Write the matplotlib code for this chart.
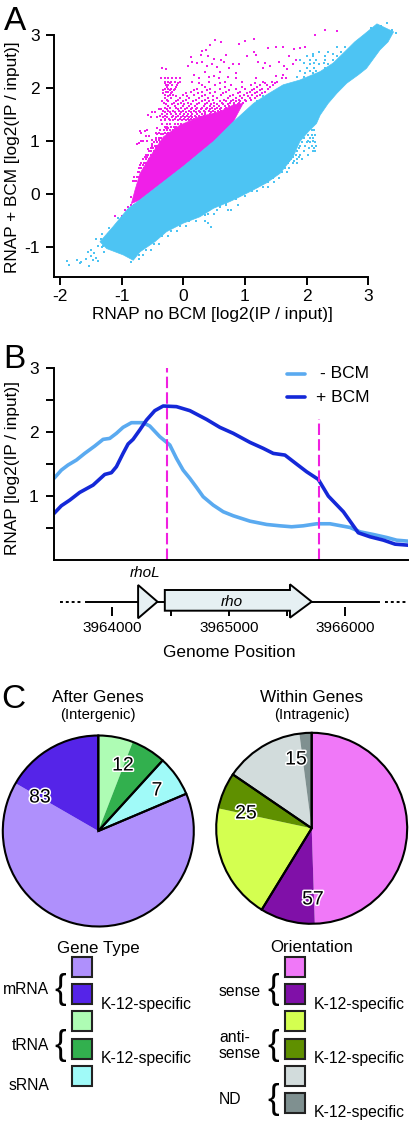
import matplotlib
matplotlib.use('Agg')
import matplotlib.pyplot as plt
import matplotlib.patheffects as pe
from matplotlib.patches import Polygon, Rectangle

plt.rcParams['font.family'] = ['Liberation Sans', 'DejaVu Sans']
plt.rcParams['axes.unicode_minus'] = False

W, H = 414, 1125

# Panel A: outline of the two dense clouds
blue_cloud_x = [-1.35, -1.14, -0.89, -0.70, 0.0, 0.49, 0.81, 1.14, 1.35, 1.62, 1.89, 2.22, 2.43, 2.65, 2.78, 2.92, 3.14,
                3.41, 3.32, 3.19, 2.97, 2.84, 2.65, 2.49, 2.35, 2.22, 2.16, 2.03, 1.89, 1.78, 1.57, 1.35, 1.14, 0.92,
                0.76, 0.49, 0.27, 0.0, -0.27, -0.46, -0.70, -0.81, -0.97, -1.24]
blue_cloud_y = [-0.90, -0.62, -0.27, -0.11, 0.52, 0.99, 1.36, 1.71, 1.87, 2.06, 2.15, 2.31, 2.47, 2.72, 2.87, 3.0, 3.21,
                3.06, 2.87, 2.72, 2.37, 2.25, 2.09, 1.90, 1.71, 1.49, 1.33, 1.18, 0.99, 0.70, 0.39, 0.21, 0.08, -0.05,
                -0.14, -0.27, -0.43, -0.55, -0.71, -0.90, -1.09, -1.25, -1.15, -1.03]
pink_cloud_x = [-0.84, -0.78, -0.70, -0.54, -0.32, -0.05, 0.27, 0.59, 0.81, 0.97, 0.81, 0.49, 0.0, -0.70]
pink_cloud_y = [-0.18, 0.08, 0.39, 0.70, 1.08, 1.30, 1.46, 1.55, 1.68, 1.71, 1.36, 0.99, 0.52, -0.11]

# Panel A: points outside the dense clouds
blue_x = [-1.89, -1.85, -1.72, -1.68, -1.65, -1.55, -1.52, -1.5, -1.46, -1.58, -1.42, -1.38, -1.5, -1.44, -1.32, -1.28,
          -1.2, -1.25, -0.72, -0.85, -0.9, 0.35, 0.4, 0.45, 0.6, 0.7, 3.05, 3.2, 3.3, 3.38, 3.45]
blue_y = [-1.26, -1.33, -1.24, -1.31, -1.29, -1.1, -1.36, -1.17, -1.25, -1.22, -1.2, -1.27, -1.05, -1.12, -1.0, -1.1,
          -0.93, -0.82, -1.22, -1.28, -1.15, -0.4, -0.54, -0.62, -0.25, -0.18, 3.14, 3.17, 3.22, 3.1, 3.03]
blue_row_y = [1.2, 1.12, 1.05, 0.98, 0.9, 0.82, 0.74, 0.66, 0.58, 0.5, 0.42, 0.3, 0.22, 0.13, 0.05, -0.03, -0.1, -0.2,
              -0.3, -0.38, -0.5, -0.6, -0.7, -0.8, -0.95, -1.05, -1.15, 2.2, 2.28, 2.38, 2.45, 2.53, 2.6, 2.68, 2.78,
              2.05, 1.95, 1.85, 1.75, -0.98, -0.85, -0.75, -0.65, -0.45, 1.0, 0.86, 0.7, 0.62, 2.32, 2.48, 2.65]
blue_row_x = [[2.08, 2.12], [2.02, 2.08, 2.13], [1.95, 2.05, 2.1], [1.92, 2.0, 2.06, 2.13], [1.9, 1.98, 2.08, 2.15],
              [1.85, 1.95, 2.1, 2.14], [1.82, 1.9, 2.02], [1.75, 1.85, 1.92], [1.7, 1.78, 1.84], [1.65, 1.72],
              [1.6, 1.68], [1.45, 1.55], [1.38, 1.47], [1.2, 1.3, 1.37], [1.02, 1.12, 1.2], [0.9, 1.0], [0.75, 0.85],
              [0.6, 0.7, 0.88], [0.42, 0.55, 0.72, 0.78], [0.3, 0.4, 0.5], [0.1, 0.2, 0.35], [-0.05, 0.05],
              [-0.2, -0.1], [-0.35, -0.25], [-0.48, -0.4], [-0.6, -0.52], [-0.72, -0.65],
              [1.85, 1.95, 2.05], [1.98, 2.1, 2.2], [2.0, 2.12, 2.3], [2.05, 2.2, 2.35], [1.9, 2.05, 2.15, 2.3, 2.42],
              [2.0, 2.1, 2.3, 2.5], [2.2, 2.35, 2.55], [2.5, 2.62], [1.7, 1.8], [1.5, 1.6], [1.3, 1.45], [1.2],
              [-1.38, -1.3], [-1.42, -1.33], [-1.32, -1.22], [-1.2, -1.12], [-1.05, -1.0], [2.03, 2.1],
              [1.88, 2.04, 2.12], [1.78, 1.88], [1.72, 1.8], [1.9, 2.05, 2.15], [1.95, 2.12, 2.28], [2.1, 2.42]]
pink_x = [2.3, 2.5, 2.14, 1.14, 1.0, 0.9, 0.51, 0.62, 0.43, 0.37, 0.3, 0.28, 0.4, 0.5, 0.62, 0.7, 1.15, 1.18, 1.03,
          0.9, 1.38, 1.5, 1.62, 1.8, 1.9, 1.97, 1.72, 0.15, 0.07, 0.12, 0.22, 0.3, 0.38, 0.47, 0.55, 0.66, 0.74, 0.8,
          1.22, 1.3, 1.33, 1.4, 1.55, 1.63, 1.68, 1.78, 1.82, 1.62, 1.5, 0.18, 0.35, 0.42, 0.5, 0.6, 0.72, 0.85,
          -0.35, -0.28, -0.75, -0.72, -0.68, -0.65, -0.6, -0.68, -0.7, -0.62, -0.58, -0.55, -0.58, -0.5, -0.57,
          -0.5, -0.53, -0.57, -0.45, -0.4, -0.42, -1.1, -1.05, -1.0, -0.95, -0.9, -0.85, -0.9, -0.85, -0.8,
          -0.85, -0.8]
pink_y = [3.09, 3.08, 3.0, 2.92, 2.88, 2.83, 2.9, 2.87, 2.82, 2.72, 2.7, 2.62, 2.6, 2.55, 2.52, 2.62, 2.68, 2.62, 2.6,
          2.45, 2.75, 2.77, 2.78, 2.73, 2.75, 2.78, 2.6, 2.5, 2.42, 2.58, 2.48, 2.5, 2.42, 2.46, 2.4, 2.5, 2.37, 2.45,
          2.5, 2.38, 2.47, 2.42, 2.5, 2.42, 2.35, 2.45, 2.52, 2.25, 2.22, 2.25, 2.3, 2.2, 2.22, 2.3, 2.2, 2.28,
          2.37, 2.35, 0.95, 0.97, 1.0, 1.0, 1.1, 1.15, 1.18, 1.18, 1.2, 1.1, 1.0, 0.95, 0.85,
          1.55, 1.45, 1.5, 1.55, 1.6, 1.45, -0.42, -0.45, -0.42, -0.3, -0.3, -0.28, -0.25, -0.2, -0.2,
          -0.05, -0.1]
pink_row_y = [0.25, 0.32, 0.42, 0.5, 0.58, 0.66, 0.74, 0.82, 0.9, 0.98, 1.06, 1.13, 1.2, 1.27, 1.33, 1.39, 1.45, 1.51,
              1.57, 1.63, 1.69, 1.75, 1.81, 1.87, 1.93, 1.99, 2.05, 2.12, 2.18,
              1.42, 1.48, 1.54, 1.6, 1.66, 1.72, 1.78, 1.84, 1.9, 1.96, 2.02, 2.09, 1.24, 1.16, 1.02, 0.86, 0.7, 0.54]
pink_row_x = [[-0.82, -0.8, -0.77], [-0.8, -0.75, -0.72], [-0.74, -0.72], [-0.72, -0.68, -0.63],
              [-0.68, -0.64, -0.6, -0.57], [-0.65, -0.6, -0.56, -0.53], [-0.6, -0.57, -0.52, -0.48, -0.45],
              [-0.56, -0.52, -0.47, -0.43, -0.41], [-0.5, -0.46, -0.43, -0.38], [-0.47, -0.42, -0.37, -0.35, -0.32],
              [-0.44, -0.4, -0.36, -0.3, -0.28], [-0.42, -0.36, -0.33, -0.27, -0.23, -0.2, -0.17, -0.14],
              [-0.38, -0.31, -0.26, -0.22, -0.17, -0.12, -0.08, -0.05], [-0.3, -0.27, -0.2, -0.15, -0.11, -0.06, -0.01],
              [-0.34, -0.27, -0.21, -0.14, -0.08, -0.03, 0.03, 0.08, 0.13],
              [-0.36, -0.29, -0.22, -0.16, -0.09, -0.02, 0.05, 0.1, 0.16, 0.2, 0.24, 0.29],
              [-0.32, -0.26, -0.18, -0.11, -0.04, 0.03, 0.09, 0.14, 0.2, 0.28, 0.34, 0.4],
              [-0.35, -0.27, -0.2, -0.12, -0.05, 0.02, 0.08, 0.15, 0.22, 0.3, 0.36, 0.43, 0.5, 0.56],
              [-0.33, -0.24, -0.16, -0.07, 0.0, 0.1, 0.17, 0.25, 0.33, 0.41, 0.48, 0.56, 0.62, 0.66, 0.72],
              [-0.3, -0.22, -0.12, -0.03, 0.06, 0.14, 0.23, 0.31, 0.39, 0.47, 0.54, 0.62, 0.7, 0.76, 0.8],
              [-0.28, -0.18, -0.08, 0.02, 0.12, 0.22, 0.35, 0.45, 0.55, 0.65, 0.73, 0.82, 0.88],
              [-0.34, -0.24, -0.12, 0.0, 0.16, 0.3, 0.42, 0.6, 0.7, 0.78, 0.85, 0.92, 1.02],
              [-0.3, -0.2, -0.06, 0.1, 0.25, 0.4, 0.55, 0.72, 0.86, 0.96, 1.08, 1.16],
              [-0.3, -0.22, -0.16, 0.0, 0.18, 0.36, 0.62, 0.8, 0.98, 1.12, 1.25],
              [-0.28, -0.24, -0.18, 0.12, 0.3, 0.52, 0.7, 0.92, 1.08, 1.2, 1.32],
              [-0.3, -0.25, -0.2, -0.14, 0.22, 0.44, 0.6, 0.85, 1.0, 1.15, 1.28, 1.38],
              [-0.28, -0.24, -0.18, -0.1, 0.3, 0.52, 0.78, 1.1, 1.24, 1.36, 1.45],
              [-0.3, -0.25, -0.2, -0.14, -0.06, 0.15, 0.42, 0.68, 0.95, 1.3, 1.44, 1.52],
              [-0.36, -0.3, -0.24, -0.18, -0.12, -0.05, 0.26, 0.58, 0.85, 1.18, 1.6, 1.66],
              [-0.3, -0.23, -0.13, -0.06, 0.01, 0.07, 0.12, 0.18, 0.25, 0.31, 0.37, 0.44, 0.49],
              [-0.37, -0.29, -0.16, -0.08, 0.0, 0.06, 0.12, 0.19, 0.26, 0.33, 0.39, 0.46, 0.53, 0.59],
              [-0.29, -0.22, -0.14, -0.03, 0.05, 0.13, 0.2, 0.27, 0.35, 0.45, 0.52, 0.58, 0.65],
              [-0.36, -0.26, -0.09, 0.03, 0.12, 0.21, 0.28, 0.37, 0.44, 0.51, 0.59, 0.67, 0.74],
              [-0.25, -0.14, -0.01, 0.09, 0.19, 0.33, 0.43, 0.5, 0.58, 0.68, 0.75, 0.84],
              [-0.31, -0.15, -0.04, 0.08, 0.26, 0.38, 0.5, 0.63, 0.76, 0.83, 0.9, 0.97],
              [-0.27, -0.09, 0.05, 0.2, 0.36, 0.49, 0.66, 0.81, 0.9, 1.0, 1.1],
              [-0.25, -0.11, 0.06, 0.3, 0.48, 0.76, 0.92, 1.05, 1.19],
              [-0.32, -0.2, 0.05, 0.24, 0.44, 0.65, 0.88, 1.03, 1.17, 1.28],
              [-0.33, -0.22, -0.15, 0.17, 0.38, 0.75, 1.12, 1.24],
              [-0.26, -0.12, 0.35, 0.67, 0.96, 1.2, 1.4],
              [-0.29, -0.22, -0.08, 0.25, 0.6, 1.16, 1.33, 1.48],
              [-0.42, -0.28, -0.24, -0.14, -0.09], [-0.44, -0.39, -0.3, -0.25, -0.19], [-0.5, -0.44, -0.39, -0.33],
              [-0.53, -0.49, -0.44], [-0.62, -0.58, -0.5], [-0.7, -0.66, -0.6]]

# Panel A axis ticks
a_xticks = [-2, -1, 0, 1, 2, 3]
a_yticks = [-1, 0, 1, 2, 3]

# Panel B curves
genome_pos_minus = [3963502, 3963565, 3963622, 3963694, 3963765, 3963851, 3963923, 3963980, 3964037, 3964094, 3964166,
                    3964266, 3964323, 3964409, 3964495, 3964552, 3964609, 3964667, 3964724, 3964781, 3964867, 3964953,
                    3965039, 3965182, 3965325, 3965439, 3965539, 3965639, 3965754, 3965868, 3966040, 3966126, 3966240,
                    3966355, 3966440, 3966537]
rnap_minus = [1.277, 1.407, 1.486, 1.564, 1.668, 1.783, 1.888, 1.903, 1.982, 2.076, 2.149,
              2.149, 2.097, 1.93, 1.80, 1.59, 1.407, 1.277, 1.136, 0.99, 0.859, 0.755,
              0.692, 0.608, 0.556, 0.535, 0.52, 0.535, 0.567, 0.567, 0.509, 0.441, 0.399,
              0.352, 0.31, 0.295]
genome_pos_plus = [3963502, 3963565, 3963637, 3963722, 3963837, 3963937, 3963994, 3964037, 3964094, 3964137, 3964180,
                   3964237, 3964295, 3964366, 3964438, 3964552, 3964667, 3964810, 3964924, 3965039, 3965182, 3965296,
                   3965382, 3965482, 3965582, 3965668, 3965768, 3965854, 3965983, 3966111, 3966212, 3966326, 3966426,
                   3966537]
rnap_plus = [0.728, 0.849, 0.937, 1.057, 1.172, 1.339, 1.366, 1.46, 1.668, 1.815, 1.888,
             2.034, 2.19, 2.337, 2.41, 2.40, 2.337, 2.20, 2.076, 1.982, 1.841, 1.747,
             1.668, 1.642, 1.501, 1.381, 1.261, 1.0, 0.755, 0.426, 0.363, 0.311, 0.248,
             0.232]
b_yticks = [0.5, 1, 1.5, 2, 2.5, 3]
b_yticklabels = ['', '1', '', '2', '', '3']
boundary_pos = [3964475, 3965774]
boundary_top = [3.0, 2.2]
genome_ticks = [3964000, 3965000, 3966000]

# Panel C pies
after_counts = [6, 6, 7, 66, 17]
after_colors = ['#AEFCB4', '#32B04E', '#A0FAF8', '#AF90FC', '#5524E8']
after_groups = [12, 7, 83]
within_counts = [48, 9, 19, 6, 13, 2]
within_colors = ['#F078F8', '#8010A8', '#D4FF50', '#5F9000', '#D2DCDC', '#7F9090']
within_groups = [57, 25, 15]


def px_axes(left, top, right, bottom):
    return fig.add_axes([left / W, 1 - bottom / H, (right - left) / W, (bottom - top) / H])


def style_axes(ax):
    ax.spines['top'].set_visible(False)
    ax.spines['right'].set_visible(False)
    ax.spines['left'].set_linewidth(1.4)
    ax.spines['bottom'].set_linewidth(1.4)
    ax.patch.set_alpha(0)


def flatten_rows(row_y, row_x):
    xs, ys = [], []
    for y, row in zip(row_y, row_x):
        xs += row
        ys += [y] * len(row)
    return xs, ys


fig = plt.figure(figsize=(W / 100, H / 100), dpi=100)

# Overlay in pixel units for labels, gene map and key
ov = fig.add_axes([0, 0, 1, 1], zorder=5)
ov.set_xlim(0, W)
ov.set_ylim(H, 0)
ov.axis('off')

# Panel A
ax_a = px_axes(54.3, 35, 368.3, 276.7)
style_axes(ax_a)
ax_a.set_xlim(-2.09, 3)
ax_a.set_ylim(-1.56, 3)
ax_a.add_patch(Polygon(list(zip(pink_cloud_x, pink_cloud_y)), fc='#F01FE8', ec='#F01FE8', lw=0.5, clip_on=False, zorder=2))
ax_a.scatter(pink_x, pink_y, s=2.2, c='#F01FE8', marker='s', linewidths=0, clip_on=False, zorder=2)
pink_rx, pink_ry = flatten_rows(pink_row_y, pink_row_x)
ax_a.scatter(pink_rx, pink_ry, s=2.2, c='#F01FE8', marker='s', linewidths=0, clip_on=False, zorder=2)
ax_a.add_patch(Polygon(list(zip(blue_cloud_x, blue_cloud_y)), fc='#4DC4F3', ec='#4DC4F3', lw=0.5, clip_on=False, zorder=3))
ax_a.scatter(blue_x, blue_y, s=2.2, c='#4DC4F3', marker='s', linewidths=0, clip_on=False, zorder=3)
blue_rx, blue_ry = flatten_rows(blue_row_y, blue_row_x)
ax_a.scatter(blue_rx, blue_ry, s=2.2, c='#4DC4F3', marker='s', linewidths=0, clip_on=False, zorder=3)
ax_a.set_xticks(a_xticks)
ax_a.set_xticklabels([str(t) for t in a_xticks])
ax_a.set_yticks(a_yticks)
ax_a.set_yticklabels([str(t) for t in a_yticks])
ax_a.tick_params(width=1.4, length=5.5, labelsize=12.5)
ax_a.tick_params(axis='x', pad=3)
ax_a.tick_params(axis='y', pad=5)
ov.text(212.7, 315, 'RNAP no BCM [log2(IP / input)]', fontsize=12.4, ha='center', va='center')
ov.text(13, 157, 'RNAP + BCM [log2(IP / input)]', fontsize=12.4, ha='center', va='center', rotation=90)

# Panel B
ax_b = px_axes(54, 368.3, 408, 560)
style_axes(ax_b)
ax_b.set_xlim(3963502, 3966537)
ax_b.set_ylim(0, 3)
ax_b.plot(genome_pos_minus, rnap_minus, color='#5AAAF0', lw=2.6, solid_capstyle='round')
ax_b.plot(genome_pos_plus, rnap_plus, color='#1428D8', lw=2.6, solid_capstyle='round')
ax_b.vlines(boundary_pos, 0, boundary_top, colors='#F020E0', linestyles=(0, (5.5, 2)), lw=1.5)
ax_b.set_xticks([])
ax_b.set_yticks(b_yticks)
ax_b.set_yticklabels(b_yticklabels)
ax_b.tick_params(width=1.4, length=6, labelsize=12.5, pad=5)
ov.text(13, 468, 'RNAP [log2(IP / input)]', fontsize=12.4, ha='center', va='center', rotation=90)
ov.plot([287, 305], [374, 374], color='#5AAAF0', lw=2.6, solid_capstyle='round')
ov.plot([287, 305], [397, 397], color='#1428D8', lw=2.6, solid_capstyle='round')
ov.text(320, 374, '- BCM', fontsize=12.5, ha='left', va='center')
ov.text(316, 397, '+ BCM', fontsize=12.5, ha='left', va='center')

# Gene map under panel B, x in genome position, y in figure pixels
ax_g = px_axes(54, 575, 408, 645)
ax_g.set_xlim(3963502, 3966537)
ax_g.set_ylim(645, 575)
ax_g.axis('off')
base = 601.7
ax_g.plot([3963551, 3963737], [base, base], color='k', lw=1.4, ls=(0, (1.5, 1.5)), clip_on=False)
ax_g.plot([3966340, 3966532], [base, base], color='k', lw=1.4, ls=(0, (1.5, 1.5)), clip_on=False)
ax_g.plot([3963780, 3966292], [base, base], color='k', lw=1.4, zorder=1)
ax_g.add_patch(Polygon([(3964223, 585), (3964389, base), (3964223, 618.3)], fc='#E6F0F3', ec='k', lw=1.4, zorder=2))
ax_g.add_patch(Polygon([(3964452, 590), (3965525, 590), (3965525, 584.3), (3965711, base), (3965525, 617.7),
                        (3965525, 610.7), (3964452, 610.7)], fc='#E6F0F3', ec='k', lw=1.4, zorder=2))
ax_g.vlines(genome_ticks, 607, 616, colors='k', lw=1.4, zorder=1)
ax_g.vlines([3964501, 3965502], 610, 616, colors='k', lw=1.4, zorder=1)
for g in genome_ticks:
    ax_g.text(g, 627.5, str(g), fontsize=11, ha='center', va='center')
ov.text(145, 573, 'rhoL', fontsize=11, style='italic', ha='center', va='center')
ov.text(232, 601.7, 'rho', fontsize=11, style='italic', ha='center', va='center')
ov.text(229, 652.7, 'Genome Position', fontsize=12.4, ha='center', va='center')

# Panel letters
ov.text(15, 21, 'A', fontsize=24, ha='center', va='center')
ov.text(14, 360, 'B', fontsize=24, ha='center', va='center')
ov.text(13, 700, 'C', fontsize=24, ha='center', va='center')

# Panel C pies
ax_p1 = px_axes(98.3 - 95.5, 831 - 95.5, 98.3 + 95.5, 831 + 95.5)
ax_p1.pie(after_counts, colors=after_colors, startangle=90, counterclock=False, radius=1, wedgeprops={'lw': 0})
ax_p1.pie(after_groups, colors=['none'] * 3, startangle=90, counterclock=False, radius=1,
          wedgeprops={'lw': 1.5, 'edgecolor': 'k'})
ax_p2 = px_axes(311.7 - 95.5, 828.3 - 95.5, 311.7 + 95.5, 828.3 + 95.5)
ax_p2.pie(within_counts, colors=within_colors, startangle=90, counterclock=False, radius=1, wedgeprops={'lw': 0})
ax_p2.pie(within_groups, colors=['none'] * 3, startangle=90, counterclock=False, radius=1,
          wedgeprops={'lw': 1.5, 'edgecolor': 'k'})
for ax in [ax_p1, ax_p2]:
    ax.set_xlim(-1, 1)
    ax.set_ylim(-1, 1)
    for p in ax.patches:
        p.set_clip_on(False)

halo = [pe.withStroke(linewidth=2.2, foreground='white')]
for x, y, s in [(123, 766, '12'), (157, 791, '7'), (40, 798, '83'), (296, 760, '15'), (246, 814, '25'), (313, 900, '57')]:
    ov.text(x, y, s, fontsize=14, ha='center', va='center', path_effects=halo)

ov.text(98.3, 697, 'After Genes', fontsize=12.3, ha='center', va='center')
ov.text(98.3, 715, '(Intergenic)', fontsize=10.7, ha='center', va='center')
ov.text(311.5, 697, 'Within Genes', fontsize=12.3, ha='center', va='center')
ov.text(311.5, 715, '(Intragenic)', fontsize=10.7, ha='center', va='center')

# Key
ov.text(98.5, 948, 'Gene Type', fontsize=12.2, ha='center', va='center')
ov.text(311.5, 948, 'Orientation', fontsize=12.2, ha='center', va='center')

left_rows = [(967, after_colors[3]), (994, after_colors[4]), (1021, after_colors[0]), (1048.5, after_colors[1]),
             (1075.5, after_colors[2])]
right_rows = [(967, within_colors[0]), (994, within_colors[1]), (1021, within_colors[2]), (1048.5, within_colors[3]),
              (1076, within_colors[4]), (1103, within_colors[5])]
for x0, rows in [(72, left_rows), (285, right_rows)]:
    for yc, col in rows:
        ov.add_patch(Rectangle((x0, yc - 10), 20.5, 20, fc=col, ec='#222222', lw=1.5))

for y in [1004, 1058]:
    ov.text(100.5, y, 'K-12-specific', fontsize=11.3, ha='left', va='center')
for y in [1004, 1058, 1113]:
    ov.text(313.5, y, 'K-12-specific', fontsize=11.3, ha='left', va='center')

ov.text(49, 990, 'mRNA', fontsize=11.3, ha='right', va='center')
ov.text(49, 1045, 'tRNA', fontsize=11.3, ha='right', va='center')
ov.text(49, 1086, 'sRNA', fontsize=11.3, ha='right', va='center')
ov.text(219, 991, 'sense', fontsize=11.3, ha='left', va='center')
ov.text(219, 1037, 'anti-', fontsize=11.3, ha='left', va='center')
ov.text(219, 1054, 'sense', fontsize=11.3, ha='left', va='center')
ov.text(219, 1100, 'ND', fontsize=11.3, ha='left', va='center')
for x, y in [(60, 990), (60, 1045), (273, 990), (273, 1045), (273, 1100)]:
    ov.text(x, y, '{', fontsize=25, ha='center', va='center')

fig.savefig('out.png', dpi=100)
